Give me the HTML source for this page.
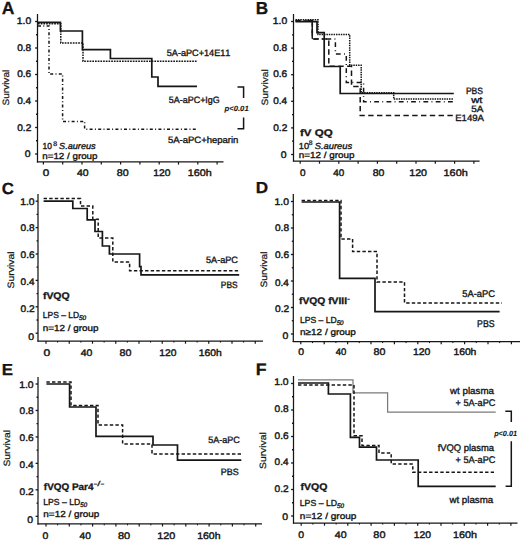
<!DOCTYPE html>
<html><head><meta charset="utf-8"><title>Survival figure</title>
<style>
html,body{margin:0;padding:0;background:#fff;}
body{width:520px;height:540px;overflow:hidden;}
svg{display:block;}
text{font-family:"Liberation Sans", sans-serif;fill:#161616;font-kerning:none;text-rendering:geometricPrecision;}
</style></head>
<body>
<svg width="520" height="540" viewBox="0 0 520 540">
<rect width="520" height="540" fill="#fff"/>
<text x="1.76" y="13.5" font-size="17.59" textLength="12.70" lengthAdjust="spacingAndGlyphs" font-weight="bold" fill="#000" stroke="#000" stroke-width="0.25">A</text>
<line x1="37.50" y1="14.00" x2="37.50" y2="162.50" stroke="#161616" stroke-width="1.25"/>
<line x1="36.90" y1="161.90" x2="223.50" y2="161.90" stroke="#161616" stroke-width="1.25"/>
<line x1="35.10" y1="154.00" x2="37.50" y2="154.00" stroke="#161616" stroke-width="1.3"/>
<line x1="36.00" y1="140.75" x2="37.50" y2="140.75" stroke="#161616" stroke-width="1.3"/>
<line x1="35.10" y1="127.50" x2="37.50" y2="127.50" stroke="#161616" stroke-width="1.3"/>
<line x1="36.00" y1="114.25" x2="37.50" y2="114.25" stroke="#161616" stroke-width="1.3"/>
<line x1="35.10" y1="101.00" x2="37.50" y2="101.00" stroke="#161616" stroke-width="1.3"/>
<line x1="36.00" y1="87.75" x2="37.50" y2="87.75" stroke="#161616" stroke-width="1.3"/>
<line x1="35.10" y1="74.50" x2="37.50" y2="74.50" stroke="#161616" stroke-width="1.3"/>
<line x1="36.00" y1="61.25" x2="37.50" y2="61.25" stroke="#161616" stroke-width="1.3"/>
<line x1="35.10" y1="48.00" x2="37.50" y2="48.00" stroke="#161616" stroke-width="1.3"/>
<line x1="36.00" y1="34.75" x2="37.50" y2="34.75" stroke="#161616" stroke-width="1.3"/>
<line x1="35.10" y1="21.50" x2="37.50" y2="21.50" stroke="#161616" stroke-width="1.3"/>
<text x="16.81" y="24.0" font-size="9.6" textLength="14.39" lengthAdjust="spacingAndGlyphs" stroke="#161616" stroke-width="0.42">1.0</text>
<text x="17.21" y="50.8" font-size="9.6" textLength="14.03" lengthAdjust="spacingAndGlyphs" stroke="#161616" stroke-width="0.42">0.8</text>
<text x="17.21" y="77.4" font-size="9.6" textLength="14.04" lengthAdjust="spacingAndGlyphs" stroke="#161616" stroke-width="0.42">0.6</text>
<text x="17.21" y="104.0" font-size="9.6" textLength="13.88" lengthAdjust="spacingAndGlyphs" stroke="#161616" stroke-width="0.42">0.4</text>
<text x="17.20" y="130.6" font-size="9.6" textLength="14.11" lengthAdjust="spacingAndGlyphs" stroke="#161616" stroke-width="0.42">0.2</text>
<text x="24.79" y="157.4" font-size="9.6" textLength="5.82" lengthAdjust="spacingAndGlyphs" stroke="#161616" stroke-width="0.42">0</text>
<line x1="43.40" y1="161.90" x2="43.40" y2="164.60" stroke="#161616" stroke-width="1.2"/>
<line x1="62.70" y1="161.90" x2="62.70" y2="164.60" stroke="#161616" stroke-width="1.2"/>
<line x1="82.00" y1="161.90" x2="82.00" y2="164.60" stroke="#161616" stroke-width="1.2"/>
<line x1="101.30" y1="161.90" x2="101.30" y2="164.60" stroke="#161616" stroke-width="1.2"/>
<line x1="120.60" y1="161.90" x2="120.60" y2="164.60" stroke="#161616" stroke-width="1.2"/>
<line x1="139.90" y1="161.90" x2="139.90" y2="164.60" stroke="#161616" stroke-width="1.2"/>
<line x1="159.20" y1="161.90" x2="159.20" y2="164.60" stroke="#161616" stroke-width="1.2"/>
<line x1="178.50" y1="161.90" x2="178.50" y2="164.60" stroke="#161616" stroke-width="1.2"/>
<line x1="197.80" y1="161.90" x2="197.80" y2="164.60" stroke="#161616" stroke-width="1.2"/>
<line x1="217.10" y1="161.90" x2="217.10" y2="164.60" stroke="#161616" stroke-width="1.2"/>
<text x="42.84" y="176.0" font-size="9.6" textLength="6.52" lengthAdjust="spacingAndGlyphs" stroke="#161616" stroke-width="0.42">0</text>
<text x="76.96" y="176.0" font-size="9.6" textLength="11.65" lengthAdjust="spacingAndGlyphs" stroke="#161616" stroke-width="0.42">40</text>
<text x="116.74" y="176.0" font-size="9.6" textLength="11.88" lengthAdjust="spacingAndGlyphs" stroke="#161616" stroke-width="0.42">80</text>
<text x="153.22" y="176.0" font-size="9.6" textLength="17.19" lengthAdjust="spacingAndGlyphs" stroke="#161616" stroke-width="0.42">120</text>
<text x="187.78" y="176.0" font-size="9.6" textLength="23.92" lengthAdjust="spacingAndGlyphs" stroke="#161616" stroke-width="0.42">160h</text>
<text transform="translate(8.6,105.0) rotate(-90)" x="-0.45" y="0" font-size="9.2" textLength="35.62" lengthAdjust="spacingAndGlyphs" stroke="#161616" stroke-width="0.22">Survival</text>
<path d="M38,22.4 H60.4 V31 H82.4 V49.6 H110.4 V58.5 H151.8 V77 H158 V86.4 H197" stroke="#161616" stroke-width="1.7" fill="none" stroke-linejoin="miter"/>
<path d="M38,23.8 H60.8 V43 H83 V61.3 H197.6" stroke="#161616" stroke-width="1.5" fill="none" stroke-linejoin="miter" stroke-dasharray="1.7,1"/>
<path d="M38,26 H49 V74 H62.6 V121.4 H84.6 V129.2 H196" stroke="#161616" stroke-width="1.5" fill="none" stroke-linejoin="miter" stroke-dasharray="3,2.3,1,2.3"/>
<text x="166.73" y="55.5" font-size="9.2" textLength="63.71" lengthAdjust="spacingAndGlyphs" stroke="#161616" stroke-width="0.36">5A-aPC+14E11</text>
<text x="168.84" y="103.3" font-size="9.2" textLength="50.93" lengthAdjust="spacingAndGlyphs" stroke="#161616" stroke-width="0.36">5A-aPC+IgG</text>
<text x="167.92" y="143.1" font-size="9.2" textLength="70.50" lengthAdjust="spacingAndGlyphs" stroke="#161616" stroke-width="0.36">5A-aPC+heparin</text>
<path d="M237.5,87 H243.6 V98 M243.6,117.5 V128.7 H237.5" stroke="#161616" stroke-width="1.5" fill="none" stroke-linejoin="miter"/>
<text x="224.47" y="110.7" font-size="7.6" textLength="24.24" lengthAdjust="spacingAndGlyphs" font-weight="bold" font-style="italic" stroke="#161616" stroke-width="0.1">p&lt;0.01</text>
<text x="42.56" y="148.7" font-size="8.8" textLength="9.37" lengthAdjust="spacingAndGlyphs" stroke="#161616" stroke-width="0.36">10</text>
<text x="53.19" y="145.6" font-size="6.6" textLength="3.91" lengthAdjust="spacingAndGlyphs" stroke="#161616" stroke-width="0.3">8</text>
<text x="59.14" y="148.7" font-size="8.8" textLength="36.44" lengthAdjust="spacingAndGlyphs" font-style="italic" stroke="#161616" stroke-width="0.36">S.aureus</text>
<text x="42.25" y="158.8" font-size="8.8" textLength="55.26" lengthAdjust="spacingAndGlyphs" stroke="#161616" stroke-width="0.36">n=12 / group</text>
<text x="255.85" y="13.5" font-size="17.3" textLength="12.43" lengthAdjust="spacingAndGlyphs" font-weight="bold" fill="#000" stroke="#000" stroke-width="0.25">B</text>
<line x1="293.50" y1="14.00" x2="293.50" y2="161.60" stroke="#161616" stroke-width="1.25"/>
<line x1="292.90" y1="161.00" x2="479.60" y2="161.00" stroke="#161616" stroke-width="1.25"/>
<line x1="291.10" y1="154.50" x2="293.50" y2="154.50" stroke="#161616" stroke-width="1.3"/>
<line x1="292.00" y1="141.20" x2="293.50" y2="141.20" stroke="#161616" stroke-width="1.3"/>
<line x1="291.10" y1="127.90" x2="293.50" y2="127.90" stroke="#161616" stroke-width="1.3"/>
<line x1="292.00" y1="114.60" x2="293.50" y2="114.60" stroke="#161616" stroke-width="1.3"/>
<line x1="291.10" y1="101.30" x2="293.50" y2="101.30" stroke="#161616" stroke-width="1.3"/>
<line x1="292.00" y1="88.00" x2="293.50" y2="88.00" stroke="#161616" stroke-width="1.3"/>
<line x1="291.10" y1="74.70" x2="293.50" y2="74.70" stroke="#161616" stroke-width="1.3"/>
<line x1="292.00" y1="61.40" x2="293.50" y2="61.40" stroke="#161616" stroke-width="1.3"/>
<line x1="291.10" y1="48.10" x2="293.50" y2="48.10" stroke="#161616" stroke-width="1.3"/>
<line x1="292.00" y1="34.80" x2="293.50" y2="34.80" stroke="#161616" stroke-width="1.3"/>
<line x1="291.10" y1="21.50" x2="293.50" y2="21.50" stroke="#161616" stroke-width="1.3"/>
<text x="272.81" y="24.2" font-size="9.6" textLength="14.39" lengthAdjust="spacingAndGlyphs" stroke="#161616" stroke-width="0.42">1.0</text>
<text x="273.21" y="50.8" font-size="9.6" textLength="14.03" lengthAdjust="spacingAndGlyphs" stroke="#161616" stroke-width="0.42">0.8</text>
<text x="273.21" y="77.4" font-size="9.6" textLength="14.04" lengthAdjust="spacingAndGlyphs" stroke="#161616" stroke-width="0.42">0.6</text>
<text x="273.21" y="104.0" font-size="9.6" textLength="13.88" lengthAdjust="spacingAndGlyphs" stroke="#161616" stroke-width="0.42">0.4</text>
<text x="273.20" y="130.6" font-size="9.6" textLength="14.11" lengthAdjust="spacingAndGlyphs" stroke="#161616" stroke-width="0.42">0.2</text>
<text x="280.79" y="157.8" font-size="9.6" textLength="5.82" lengthAdjust="spacingAndGlyphs" stroke="#161616" stroke-width="0.42">0</text>
<line x1="300.20" y1="161.00" x2="300.20" y2="163.70" stroke="#161616" stroke-width="1.2"/>
<line x1="319.50" y1="161.00" x2="319.50" y2="163.70" stroke="#161616" stroke-width="1.2"/>
<line x1="338.80" y1="161.00" x2="338.80" y2="163.70" stroke="#161616" stroke-width="1.2"/>
<line x1="358.10" y1="161.00" x2="358.10" y2="163.70" stroke="#161616" stroke-width="1.2"/>
<line x1="377.40" y1="161.00" x2="377.40" y2="163.70" stroke="#161616" stroke-width="1.2"/>
<line x1="396.70" y1="161.00" x2="396.70" y2="163.70" stroke="#161616" stroke-width="1.2"/>
<line x1="416.00" y1="161.00" x2="416.00" y2="163.70" stroke="#161616" stroke-width="1.2"/>
<line x1="435.30" y1="161.00" x2="435.30" y2="163.70" stroke="#161616" stroke-width="1.2"/>
<line x1="454.60" y1="161.00" x2="454.60" y2="163.70" stroke="#161616" stroke-width="1.2"/>
<line x1="473.90" y1="161.00" x2="473.90" y2="163.70" stroke="#161616" stroke-width="1.2"/>
<text x="300.01" y="175.8" font-size="9.6" textLength="5.58" lengthAdjust="spacingAndGlyphs" stroke="#161616" stroke-width="0.42">0</text>
<text x="333.37" y="175.8" font-size="9.6" textLength="11.01" lengthAdjust="spacingAndGlyphs" stroke="#161616" stroke-width="0.42">40</text>
<text x="372.74" y="175.8" font-size="9.6" textLength="11.67" lengthAdjust="spacingAndGlyphs" stroke="#161616" stroke-width="0.42">80</text>
<text x="409.19" y="175.8" font-size="9.6" textLength="17.83" lengthAdjust="spacingAndGlyphs" stroke="#161616" stroke-width="0.42">120</text>
<text x="443.57" y="175.8" font-size="9.6" textLength="24.13" lengthAdjust="spacingAndGlyphs" stroke="#161616" stroke-width="0.42">160h</text>
<text transform="translate(268.0,105.0) rotate(-90)" x="-0.46" y="0" font-size="9.2" textLength="36.14" lengthAdjust="spacingAndGlyphs" stroke="#161616" stroke-width="0.22">Survival</text>
<path d="M295.5,21.6 H317 V32.6 H324.2 V66.5 H340.2 V93.5 H453.8" stroke="#161616" stroke-width="1.7" fill="none" stroke-linejoin="miter"/>
<path d="M295.5,19.8 H318 V34.5 H349.7 V65.2 H361.2 V92.7 H393.7 V99.1 H453.8" stroke="#161616" stroke-width="1.5" fill="none" stroke-linejoin="miter" stroke-dasharray="1.5,0.9"/>
<path d="M295.5,20.6 H312.3 V38.9 H335.4 V54 H346.3 V82.5 H363.6 V101.8 H453.8" stroke="#161616" stroke-width="1.5" fill="none" stroke-linejoin="miter" stroke-dasharray="4.8,3.3,0.9,3.3"/>
<path d="M295.5,21.0 H312.3 V38.9 H328.8 V66.2 H351.5 V86.5 H360.2 V115.5 H453.8" stroke="#161616" stroke-width="1.5" fill="none" stroke-linejoin="miter" stroke-dasharray="5.4,3.4"/>
<path d="M312.3,21.5 V38.9" stroke="#161616" stroke-width="1.3" fill="none" stroke-linejoin="miter"/>
<text x="465.90" y="93.5" font-size="9.2" textLength="17.09" lengthAdjust="spacingAndGlyphs" stroke="#161616" stroke-width="0.36">PBS</text>
<text x="471.22" y="102.5" font-size="9.2" textLength="11.27" lengthAdjust="spacingAndGlyphs" stroke="#161616" stroke-width="0.36">wt</text>
<text x="471.20" y="111.5" font-size="9.2" textLength="12.22" lengthAdjust="spacingAndGlyphs" stroke="#161616" stroke-width="0.36">5A</text>
<text x="455.21" y="121.0" font-size="9.2" textLength="28.81" lengthAdjust="spacingAndGlyphs" stroke="#161616" stroke-width="0.36">E149A</text>
<text x="300.00" y="135.5" font-size="9.6" textLength="32.68" lengthAdjust="spacingAndGlyphs" font-weight="bold" stroke="#161616" stroke-width="0.3">fV QQ</text>
<text x="298.80" y="148.8" font-size="8.8" textLength="10.26" lengthAdjust="spacingAndGlyphs" stroke="#161616" stroke-width="0.36">10</text>
<text x="308.70" y="145.4" font-size="6.6" textLength="3.79" lengthAdjust="spacingAndGlyphs" stroke="#161616" stroke-width="0.3">8</text>
<text x="314.73" y="148.8" font-size="8.8" textLength="37.46" lengthAdjust="spacingAndGlyphs" font-style="italic" stroke="#161616" stroke-width="0.36">S.aureus</text>
<text x="298.84" y="158.0" font-size="8.8" textLength="55.77" lengthAdjust="spacingAndGlyphs" stroke="#161616" stroke-width="0.36">n=12 / group</text>
<text x="1.81" y="193.54" font-size="16.1" textLength="12.15" lengthAdjust="spacingAndGlyphs" font-weight="bold" fill="#000" stroke="#000" stroke-width="0.25">C</text>
<line x1="38.00" y1="194.00" x2="38.00" y2="341.60" stroke="#161616" stroke-width="1.25"/>
<line x1="37.40" y1="341.00" x2="263.00" y2="341.00" stroke="#161616" stroke-width="1.25"/>
<line x1="35.60" y1="333.20" x2="38.00" y2="333.20" stroke="#161616" stroke-width="1.3"/>
<line x1="36.50" y1="320.00" x2="38.00" y2="320.00" stroke="#161616" stroke-width="1.3"/>
<line x1="35.60" y1="306.80" x2="38.00" y2="306.80" stroke="#161616" stroke-width="1.3"/>
<line x1="36.50" y1="293.60" x2="38.00" y2="293.60" stroke="#161616" stroke-width="1.3"/>
<line x1="35.60" y1="280.40" x2="38.00" y2="280.40" stroke="#161616" stroke-width="1.3"/>
<line x1="36.50" y1="267.20" x2="38.00" y2="267.20" stroke="#161616" stroke-width="1.3"/>
<line x1="35.60" y1="254.00" x2="38.00" y2="254.00" stroke="#161616" stroke-width="1.3"/>
<line x1="36.50" y1="240.80" x2="38.00" y2="240.80" stroke="#161616" stroke-width="1.3"/>
<line x1="35.60" y1="227.60" x2="38.00" y2="227.60" stroke="#161616" stroke-width="1.3"/>
<line x1="36.50" y1="214.40" x2="38.00" y2="214.40" stroke="#161616" stroke-width="1.3"/>
<line x1="35.60" y1="201.20" x2="38.00" y2="201.20" stroke="#161616" stroke-width="1.3"/>
<text x="20.21" y="204.5" font-size="9.6" textLength="14.39" lengthAdjust="spacingAndGlyphs" stroke="#161616" stroke-width="0.42">1.0</text>
<text x="20.61" y="231.4" font-size="9.6" textLength="14.03" lengthAdjust="spacingAndGlyphs" stroke="#161616" stroke-width="0.42">0.8</text>
<text x="20.61" y="258.1" font-size="9.6" textLength="14.04" lengthAdjust="spacingAndGlyphs" stroke="#161616" stroke-width="0.42">0.6</text>
<text x="20.61" y="285.4" font-size="9.6" textLength="13.88" lengthAdjust="spacingAndGlyphs" stroke="#161616" stroke-width="0.42">0.4</text>
<text x="20.60" y="311.5" font-size="9.6" textLength="14.11" lengthAdjust="spacingAndGlyphs" stroke="#161616" stroke-width="0.42">0.2</text>
<text x="28.19" y="339.5" font-size="9.6" textLength="5.82" lengthAdjust="spacingAndGlyphs" stroke="#161616" stroke-width="0.42">0</text>
<line x1="46.00" y1="341.00" x2="46.00" y2="343.70" stroke="#161616" stroke-width="1.2"/>
<line x1="57.62" y1="341.00" x2="57.62" y2="342.60" stroke="#161616" stroke-width="1.0"/>
<line x1="69.25" y1="341.00" x2="69.25" y2="343.70" stroke="#161616" stroke-width="1.2"/>
<line x1="80.88" y1="341.00" x2="80.88" y2="342.60" stroke="#161616" stroke-width="1.0"/>
<line x1="92.50" y1="341.00" x2="92.50" y2="343.70" stroke="#161616" stroke-width="1.2"/>
<line x1="104.12" y1="341.00" x2="104.12" y2="342.60" stroke="#161616" stroke-width="1.0"/>
<line x1="115.75" y1="341.00" x2="115.75" y2="343.70" stroke="#161616" stroke-width="1.2"/>
<line x1="127.38" y1="341.00" x2="127.38" y2="342.60" stroke="#161616" stroke-width="1.0"/>
<line x1="139.00" y1="341.00" x2="139.00" y2="343.70" stroke="#161616" stroke-width="1.2"/>
<line x1="150.62" y1="341.00" x2="150.62" y2="342.60" stroke="#161616" stroke-width="1.0"/>
<line x1="162.25" y1="341.00" x2="162.25" y2="343.70" stroke="#161616" stroke-width="1.2"/>
<line x1="173.88" y1="341.00" x2="173.88" y2="342.60" stroke="#161616" stroke-width="1.0"/>
<line x1="185.50" y1="341.00" x2="185.50" y2="343.70" stroke="#161616" stroke-width="1.2"/>
<line x1="197.12" y1="341.00" x2="197.12" y2="342.60" stroke="#161616" stroke-width="1.0"/>
<line x1="208.75" y1="341.00" x2="208.75" y2="343.70" stroke="#161616" stroke-width="1.2"/>
<line x1="220.38" y1="341.00" x2="220.38" y2="342.60" stroke="#161616" stroke-width="1.0"/>
<line x1="232.00" y1="341.00" x2="232.00" y2="343.70" stroke="#161616" stroke-width="1.2"/>
<line x1="243.62" y1="341.00" x2="243.62" y2="342.60" stroke="#161616" stroke-width="1.0"/>
<line x1="255.25" y1="341.00" x2="255.25" y2="343.70" stroke="#161616" stroke-width="1.2"/>
<text x="43.53" y="355.5" font-size="9.6" textLength="6.75" lengthAdjust="spacingAndGlyphs" stroke="#161616" stroke-width="0.42">0</text>
<text x="80.76" y="355.5" font-size="9.6" textLength="11.65" lengthAdjust="spacingAndGlyphs" stroke="#161616" stroke-width="0.42">40</text>
<text x="119.54" y="355.5" font-size="9.6" textLength="11.88" lengthAdjust="spacingAndGlyphs" stroke="#161616" stroke-width="0.42">80</text>
<text x="159.22" y="355.5" font-size="9.6" textLength="17.19" lengthAdjust="spacingAndGlyphs" stroke="#161616" stroke-width="0.42">120</text>
<text x="198.71" y="355.5" font-size="9.6" textLength="22.96" lengthAdjust="spacingAndGlyphs" stroke="#161616" stroke-width="0.42">160h</text>
<text transform="translate(13.6,288.0) rotate(-90)" x="-0.47" y="0" font-size="9.2" textLength="37.17" lengthAdjust="spacingAndGlyphs" stroke="#161616" stroke-width="0.22">Survival</text>
<path d="M43.6,201.2 H72.8 V208.5 H87.2 V219.8 H95 V231.5 H102.4 V246 H109.4 V254 H139.6 V266.6 H141 V274.8 H239.2" stroke="#161616" stroke-width="1.7" fill="none" stroke-linejoin="miter"/>
<path d="M43.6,198.6 H80.5 V206 H92.8 V219.3 H98.2 V238 H112.8 V262 H129.6 V270.7 H239.4" stroke="#161616" stroke-width="1.5" fill="none" stroke-linejoin="miter" stroke-dasharray="3.4,2.2"/>
<text x="206.04" y="263.2" font-size="9.2" textLength="31.91" lengthAdjust="spacingAndGlyphs" stroke="#161616" stroke-width="0.36">5A-aPC</text>
<text x="220.81" y="287.6" font-size="9.2" textLength="16.77" lengthAdjust="spacingAndGlyphs" stroke="#161616" stroke-width="0.36">PBS</text>
<text x="42.92" y="298.8" font-size="9.6" textLength="26.72" lengthAdjust="spacingAndGlyphs" font-weight="bold" stroke="#161616" stroke-width="0.3">fVQQ</text>
<text x="42.81" y="318.2" font-size="8.8" textLength="36.20" lengthAdjust="spacingAndGlyphs" stroke="#161616" stroke-width="0.36">LPS – LD</text>
<text x="79.06" y="320.1" font-size="6.6" textLength="7.10" lengthAdjust="spacingAndGlyphs" font-style="italic" stroke="#161616" stroke-width="0.36">50</text>
<text x="42.84" y="330.8" font-size="8.8" textLength="55.77" lengthAdjust="spacingAndGlyphs" stroke="#161616" stroke-width="0.36">n=12 / group</text>
<text x="255.85" y="193.3" font-size="15.99" textLength="12.36" lengthAdjust="spacingAndGlyphs" font-weight="bold" fill="#000" stroke="#000" stroke-width="0.25">D</text>
<line x1="293.30" y1="194.00" x2="293.30" y2="342.10" stroke="#161616" stroke-width="1.25"/>
<line x1="292.70" y1="341.50" x2="520.00" y2="341.50" stroke="#161616" stroke-width="1.25"/>
<line x1="290.90" y1="334.00" x2="293.30" y2="334.00" stroke="#161616" stroke-width="1.3"/>
<line x1="291.80" y1="320.75" x2="293.30" y2="320.75" stroke="#161616" stroke-width="1.3"/>
<line x1="290.90" y1="307.50" x2="293.30" y2="307.50" stroke="#161616" stroke-width="1.3"/>
<line x1="291.80" y1="294.25" x2="293.30" y2="294.25" stroke="#161616" stroke-width="1.3"/>
<line x1="290.90" y1="281.00" x2="293.30" y2="281.00" stroke="#161616" stroke-width="1.3"/>
<line x1="291.80" y1="267.75" x2="293.30" y2="267.75" stroke="#161616" stroke-width="1.3"/>
<line x1="290.90" y1="254.50" x2="293.30" y2="254.50" stroke="#161616" stroke-width="1.3"/>
<line x1="291.80" y1="241.25" x2="293.30" y2="241.25" stroke="#161616" stroke-width="1.3"/>
<line x1="290.90" y1="228.00" x2="293.30" y2="228.00" stroke="#161616" stroke-width="1.3"/>
<line x1="291.80" y1="214.75" x2="293.30" y2="214.75" stroke="#161616" stroke-width="1.3"/>
<line x1="290.90" y1="201.50" x2="293.30" y2="201.50" stroke="#161616" stroke-width="1.3"/>
<text x="274.61" y="204.5" font-size="9.6" textLength="14.39" lengthAdjust="spacingAndGlyphs" stroke="#161616" stroke-width="0.42">1.0</text>
<text x="275.01" y="231.2" font-size="9.6" textLength="14.03" lengthAdjust="spacingAndGlyphs" stroke="#161616" stroke-width="0.42">0.8</text>
<text x="275.01" y="258.3" font-size="9.6" textLength="14.04" lengthAdjust="spacingAndGlyphs" stroke="#161616" stroke-width="0.42">0.6</text>
<text x="275.01" y="285.6" font-size="9.6" textLength="13.88" lengthAdjust="spacingAndGlyphs" stroke="#161616" stroke-width="0.42">0.4</text>
<text x="275.00" y="311.9" font-size="9.6" textLength="14.11" lengthAdjust="spacingAndGlyphs" stroke="#161616" stroke-width="0.42">0.2</text>
<text x="282.59" y="339.0" font-size="9.6" textLength="5.82" lengthAdjust="spacingAndGlyphs" stroke="#161616" stroke-width="0.42">0</text>
<line x1="300.80" y1="341.50" x2="300.80" y2="344.20" stroke="#161616" stroke-width="1.2"/>
<line x1="312.50" y1="341.50" x2="312.50" y2="343.10" stroke="#161616" stroke-width="1.0"/>
<line x1="324.20" y1="341.50" x2="324.20" y2="344.20" stroke="#161616" stroke-width="1.2"/>
<line x1="335.90" y1="341.50" x2="335.90" y2="343.10" stroke="#161616" stroke-width="1.0"/>
<line x1="347.60" y1="341.50" x2="347.60" y2="344.20" stroke="#161616" stroke-width="1.2"/>
<line x1="359.30" y1="341.50" x2="359.30" y2="343.10" stroke="#161616" stroke-width="1.0"/>
<line x1="371.00" y1="341.50" x2="371.00" y2="344.20" stroke="#161616" stroke-width="1.2"/>
<line x1="382.70" y1="341.50" x2="382.70" y2="343.10" stroke="#161616" stroke-width="1.0"/>
<line x1="394.40" y1="341.50" x2="394.40" y2="344.20" stroke="#161616" stroke-width="1.2"/>
<line x1="406.10" y1="341.50" x2="406.10" y2="343.10" stroke="#161616" stroke-width="1.0"/>
<line x1="417.80" y1="341.50" x2="417.80" y2="344.20" stroke="#161616" stroke-width="1.2"/>
<line x1="429.50" y1="341.50" x2="429.50" y2="343.10" stroke="#161616" stroke-width="1.0"/>
<line x1="441.20" y1="341.50" x2="441.20" y2="344.20" stroke="#161616" stroke-width="1.2"/>
<line x1="452.90" y1="341.50" x2="452.90" y2="343.10" stroke="#161616" stroke-width="1.0"/>
<line x1="464.60" y1="341.50" x2="464.60" y2="344.20" stroke="#161616" stroke-width="1.2"/>
<line x1="476.30" y1="341.50" x2="476.30" y2="343.10" stroke="#161616" stroke-width="1.0"/>
<line x1="488.00" y1="341.50" x2="488.00" y2="344.20" stroke="#161616" stroke-width="1.2"/>
<line x1="499.70" y1="341.50" x2="499.70" y2="343.10" stroke="#161616" stroke-width="1.0"/>
<line x1="511.40" y1="341.50" x2="511.40" y2="344.20" stroke="#161616" stroke-width="1.2"/>
<text x="298.39" y="355.0" font-size="9.6" textLength="5.82" lengthAdjust="spacingAndGlyphs" stroke="#161616" stroke-width="0.42">0</text>
<text x="335.78" y="355.0" font-size="9.6" textLength="10.59" lengthAdjust="spacingAndGlyphs" stroke="#161616" stroke-width="0.42">40</text>
<text x="373.54" y="355.0" font-size="9.6" textLength="11.88" lengthAdjust="spacingAndGlyphs" stroke="#161616" stroke-width="0.42">80</text>
<text x="413.01" y="355.0" font-size="9.6" textLength="17.40" lengthAdjust="spacingAndGlyphs" stroke="#161616" stroke-width="0.42">120</text>
<text x="453.41" y="355.0" font-size="9.6" textLength="22.96" lengthAdjust="spacingAndGlyphs" stroke="#161616" stroke-width="0.42">160h</text>
<text transform="translate(267.0,287.0) rotate(-90)" x="-0.46" y="0" font-size="9.2" textLength="35.93" lengthAdjust="spacingAndGlyphs" stroke="#161616" stroke-width="0.22">Survival</text>
<path d="M301.6,202 H339.6 V278.4 H375 V311.6 H499.6" stroke="#161616" stroke-width="1.7" fill="none" stroke-linejoin="miter"/>
<path d="M301.6,200.4 H341 V239 H352.6 V251.6 H377 V282 H404.5 V303 H502" stroke="#161616" stroke-width="1.5" fill="none" stroke-linejoin="miter" stroke-dasharray="3.4,2.2"/>
<text x="462.22" y="297.2" font-size="9.7" textLength="32.83" lengthAdjust="spacingAndGlyphs" stroke="#161616" stroke-width="0.36">5A-aPC</text>
<text x="477.08" y="327.0" font-size="9.7" textLength="17.52" lengthAdjust="spacingAndGlyphs" stroke="#161616" stroke-width="0.36">PBS</text>
<text x="299.02" y="304.3" font-size="9.6" textLength="48.06" lengthAdjust="spacingAndGlyphs" font-weight="bold" stroke="#161616" stroke-width="0.3">fVQQ fVIII</text>
<text x="347.03" y="301.4" font-size="7.0" textLength="3.15" lengthAdjust="spacingAndGlyphs" font-weight="bold" stroke="#161616" stroke-width="0.1">-</text>
<text x="300.00" y="323.0" font-size="8.8" textLength="36.61" lengthAdjust="spacingAndGlyphs" stroke="#161616" stroke-width="0.36">LPS – LD</text>
<text x="336.66" y="324.8" font-size="6.6" textLength="6.89" lengthAdjust="spacingAndGlyphs" font-style="italic" stroke="#161616" stroke-width="0.36">50</text>
<text x="300.04" y="335.2" font-size="8.8" textLength="55.88" lengthAdjust="spacingAndGlyphs" stroke="#161616" stroke-width="0.36">n≥12 / group</text>
<text x="1.87" y="374.6" font-size="15.99" textLength="11.29" lengthAdjust="spacingAndGlyphs" font-weight="bold" fill="#000" stroke="#000" stroke-width="0.25">E</text>
<line x1="38.00" y1="377.00" x2="38.00" y2="524.40" stroke="#161616" stroke-width="1.25"/>
<line x1="37.40" y1="523.80" x2="262.00" y2="523.80" stroke="#161616" stroke-width="1.25"/>
<line x1="35.60" y1="516.30" x2="38.00" y2="516.30" stroke="#161616" stroke-width="1.3"/>
<line x1="36.50" y1="503.07" x2="38.00" y2="503.07" stroke="#161616" stroke-width="1.3"/>
<line x1="35.60" y1="489.84" x2="38.00" y2="489.84" stroke="#161616" stroke-width="1.3"/>
<line x1="36.50" y1="476.61" x2="38.00" y2="476.61" stroke="#161616" stroke-width="1.3"/>
<line x1="35.60" y1="463.38" x2="38.00" y2="463.38" stroke="#161616" stroke-width="1.3"/>
<line x1="36.50" y1="450.15" x2="38.00" y2="450.15" stroke="#161616" stroke-width="1.3"/>
<line x1="35.60" y1="436.92" x2="38.00" y2="436.92" stroke="#161616" stroke-width="1.3"/>
<line x1="36.50" y1="423.69" x2="38.00" y2="423.69" stroke="#161616" stroke-width="1.3"/>
<line x1="35.60" y1="410.46" x2="38.00" y2="410.46" stroke="#161616" stroke-width="1.3"/>
<line x1="36.50" y1="397.23" x2="38.00" y2="397.23" stroke="#161616" stroke-width="1.3"/>
<line x1="35.60" y1="384.00" x2="38.00" y2="384.00" stroke="#161616" stroke-width="1.3"/>
<text x="19.21" y="387.5" font-size="9.6" textLength="14.39" lengthAdjust="spacingAndGlyphs" stroke="#161616" stroke-width="0.42">1.0</text>
<text x="19.61" y="414.0" font-size="9.6" textLength="14.03" lengthAdjust="spacingAndGlyphs" stroke="#161616" stroke-width="0.42">0.8</text>
<text x="19.61" y="441.0" font-size="9.6" textLength="14.04" lengthAdjust="spacingAndGlyphs" stroke="#161616" stroke-width="0.42">0.6</text>
<text x="19.61" y="467.8" font-size="9.6" textLength="13.88" lengthAdjust="spacingAndGlyphs" stroke="#161616" stroke-width="0.42">0.4</text>
<text x="19.60" y="494.5" font-size="9.6" textLength="14.11" lengthAdjust="spacingAndGlyphs" stroke="#161616" stroke-width="0.42">0.2</text>
<text x="27.19" y="522.5" font-size="9.6" textLength="5.82" lengthAdjust="spacingAndGlyphs" stroke="#161616" stroke-width="0.42">0</text>
<line x1="46.00" y1="523.80" x2="46.00" y2="526.50" stroke="#161616" stroke-width="1.2"/>
<line x1="57.65" y1="523.80" x2="57.65" y2="525.40" stroke="#161616" stroke-width="1.0"/>
<line x1="69.30" y1="523.80" x2="69.30" y2="526.50" stroke="#161616" stroke-width="1.2"/>
<line x1="80.95" y1="523.80" x2="80.95" y2="525.40" stroke="#161616" stroke-width="1.0"/>
<line x1="92.60" y1="523.80" x2="92.60" y2="526.50" stroke="#161616" stroke-width="1.2"/>
<line x1="104.25" y1="523.80" x2="104.25" y2="525.40" stroke="#161616" stroke-width="1.0"/>
<line x1="115.90" y1="523.80" x2="115.90" y2="526.50" stroke="#161616" stroke-width="1.2"/>
<line x1="127.55" y1="523.80" x2="127.55" y2="525.40" stroke="#161616" stroke-width="1.0"/>
<line x1="139.20" y1="523.80" x2="139.20" y2="526.50" stroke="#161616" stroke-width="1.2"/>
<line x1="150.85" y1="523.80" x2="150.85" y2="525.40" stroke="#161616" stroke-width="1.0"/>
<line x1="162.50" y1="523.80" x2="162.50" y2="526.50" stroke="#161616" stroke-width="1.2"/>
<line x1="174.15" y1="523.80" x2="174.15" y2="525.40" stroke="#161616" stroke-width="1.0"/>
<line x1="185.80" y1="523.80" x2="185.80" y2="526.50" stroke="#161616" stroke-width="1.2"/>
<line x1="197.45" y1="523.80" x2="197.45" y2="525.40" stroke="#161616" stroke-width="1.0"/>
<line x1="209.10" y1="523.80" x2="209.10" y2="526.50" stroke="#161616" stroke-width="1.2"/>
<line x1="220.75" y1="523.80" x2="220.75" y2="525.40" stroke="#161616" stroke-width="1.0"/>
<line x1="232.40" y1="523.80" x2="232.40" y2="526.50" stroke="#161616" stroke-width="1.2"/>
<line x1="244.05" y1="523.80" x2="244.05" y2="525.40" stroke="#161616" stroke-width="1.0"/>
<line x1="255.70" y1="523.80" x2="255.70" y2="526.50" stroke="#161616" stroke-width="1.2"/>
<text x="42.59" y="538.5" font-size="9.6" textLength="5.82" lengthAdjust="spacingAndGlyphs" stroke="#161616" stroke-width="0.42">0</text>
<text x="79.57" y="538.5" font-size="9.6" textLength="11.33" lengthAdjust="spacingAndGlyphs" stroke="#161616" stroke-width="0.42">40</text>
<text x="118.02" y="538.5" font-size="9.6" textLength="12.21" lengthAdjust="spacingAndGlyphs" stroke="#161616" stroke-width="0.42">80</text>
<text x="157.18" y="538.5" font-size="9.6" textLength="18.05" lengthAdjust="spacingAndGlyphs" stroke="#161616" stroke-width="0.42">120</text>
<text x="197.20" y="538.5" font-size="9.6" textLength="23.28" lengthAdjust="spacingAndGlyphs" stroke="#161616" stroke-width="0.42">160h</text>
<text transform="translate(9.6,466.0) rotate(-90)" x="-0.47" y="0" font-size="9.2" textLength="36.45" lengthAdjust="spacingAndGlyphs" stroke="#161616" stroke-width="0.22">Survival</text>
<path d="M46.4,384 H69.6 V407 H96 V436.4 H153 V445 H177.5 V460.2 H241.3" stroke="#161616" stroke-width="1.7" fill="none" stroke-linejoin="miter"/>
<path d="M46.4,382 H71 V405.6 H98 V425 H122.6 V444 H152 V454 H242" stroke="#161616" stroke-width="1.5" fill="none" stroke-linejoin="miter" stroke-dasharray="3.4,2.2"/>
<text x="208.34" y="443.0" font-size="9.2" textLength="31.50" lengthAdjust="spacingAndGlyphs" stroke="#161616" stroke-width="0.36">5A-aPC</text>
<text x="220.76" y="474.5" font-size="9.2" textLength="17.95" lengthAdjust="spacingAndGlyphs" stroke="#161616" stroke-width="0.36">PBS</text>
<text x="43.83" y="490.0" font-size="9.6" textLength="49.62" lengthAdjust="spacingAndGlyphs" font-weight="bold" stroke="#161616" stroke-width="0.3">fVQQ Par4</text>
<text x="93.48" y="486.0" font-size="7.0" textLength="11.04" lengthAdjust="spacingAndGlyphs" stroke="#161616" stroke-width="0.25">-/-</text>
<text x="43.29" y="505.0" font-size="8.8" textLength="36.92" lengthAdjust="spacingAndGlyphs" stroke="#161616" stroke-width="0.36">LPS – LD</text>
<text x="80.26" y="506.8" font-size="6.6" textLength="6.79" lengthAdjust="spacingAndGlyphs" font-style="italic" stroke="#161616" stroke-width="0.36">50</text>
<text x="43.34" y="517.0" font-size="8.8" textLength="56.08" lengthAdjust="spacingAndGlyphs" stroke="#161616" stroke-width="0.36">n=12 / group</text>
<text x="255.81" y="374.6" font-size="16.57" textLength="10.84" lengthAdjust="spacingAndGlyphs" font-weight="bold" fill="#000" stroke="#000" stroke-width="0.25">F</text>
<line x1="293.50" y1="376.00" x2="293.50" y2="523.60" stroke="#161616" stroke-width="1.25"/>
<line x1="292.90" y1="523.00" x2="517.50" y2="523.00" stroke="#161616" stroke-width="1.25"/>
<line x1="291.10" y1="516.00" x2="293.50" y2="516.00" stroke="#161616" stroke-width="1.3"/>
<line x1="292.00" y1="502.75" x2="293.50" y2="502.75" stroke="#161616" stroke-width="1.3"/>
<line x1="291.10" y1="489.50" x2="293.50" y2="489.50" stroke="#161616" stroke-width="1.3"/>
<line x1="292.00" y1="476.25" x2="293.50" y2="476.25" stroke="#161616" stroke-width="1.3"/>
<line x1="291.10" y1="463.00" x2="293.50" y2="463.00" stroke="#161616" stroke-width="1.3"/>
<line x1="292.00" y1="449.75" x2="293.50" y2="449.75" stroke="#161616" stroke-width="1.3"/>
<line x1="291.10" y1="436.50" x2="293.50" y2="436.50" stroke="#161616" stroke-width="1.3"/>
<line x1="292.00" y1="423.25" x2="293.50" y2="423.25" stroke="#161616" stroke-width="1.3"/>
<line x1="291.10" y1="410.00" x2="293.50" y2="410.00" stroke="#161616" stroke-width="1.3"/>
<line x1="292.00" y1="396.75" x2="293.50" y2="396.75" stroke="#161616" stroke-width="1.3"/>
<line x1="291.10" y1="383.50" x2="293.50" y2="383.50" stroke="#161616" stroke-width="1.3"/>
<text x="274.21" y="384.5" font-size="9.6" textLength="14.39" lengthAdjust="spacingAndGlyphs" stroke="#161616" stroke-width="0.42">1.0</text>
<text x="274.61" y="411.5" font-size="9.6" textLength="14.03" lengthAdjust="spacingAndGlyphs" stroke="#161616" stroke-width="0.42">0.8</text>
<text x="274.61" y="438.5" font-size="9.6" textLength="14.04" lengthAdjust="spacingAndGlyphs" stroke="#161616" stroke-width="0.42">0.6</text>
<text x="274.61" y="465.2" font-size="9.6" textLength="13.88" lengthAdjust="spacingAndGlyphs" stroke="#161616" stroke-width="0.42">0.4</text>
<text x="274.60" y="492.0" font-size="9.6" textLength="14.11" lengthAdjust="spacingAndGlyphs" stroke="#161616" stroke-width="0.42">0.2</text>
<text x="282.19" y="519.5" font-size="9.6" textLength="5.82" lengthAdjust="spacingAndGlyphs" stroke="#161616" stroke-width="0.42">0</text>
<line x1="301.20" y1="523.00" x2="301.20" y2="525.70" stroke="#161616" stroke-width="1.2"/>
<line x1="312.85" y1="523.00" x2="312.85" y2="524.60" stroke="#161616" stroke-width="1.0"/>
<line x1="324.50" y1="523.00" x2="324.50" y2="525.70" stroke="#161616" stroke-width="1.2"/>
<line x1="336.15" y1="523.00" x2="336.15" y2="524.60" stroke="#161616" stroke-width="1.0"/>
<line x1="347.80" y1="523.00" x2="347.80" y2="525.70" stroke="#161616" stroke-width="1.2"/>
<line x1="359.45" y1="523.00" x2="359.45" y2="524.60" stroke="#161616" stroke-width="1.0"/>
<line x1="371.10" y1="523.00" x2="371.10" y2="525.70" stroke="#161616" stroke-width="1.2"/>
<line x1="382.75" y1="523.00" x2="382.75" y2="524.60" stroke="#161616" stroke-width="1.0"/>
<line x1="394.40" y1="523.00" x2="394.40" y2="525.70" stroke="#161616" stroke-width="1.2"/>
<line x1="406.05" y1="523.00" x2="406.05" y2="524.60" stroke="#161616" stroke-width="1.0"/>
<line x1="417.70" y1="523.00" x2="417.70" y2="525.70" stroke="#161616" stroke-width="1.2"/>
<line x1="429.35" y1="523.00" x2="429.35" y2="524.60" stroke="#161616" stroke-width="1.0"/>
<line x1="441.00" y1="523.00" x2="441.00" y2="525.70" stroke="#161616" stroke-width="1.2"/>
<line x1="452.65" y1="523.00" x2="452.65" y2="524.60" stroke="#161616" stroke-width="1.0"/>
<line x1="464.30" y1="523.00" x2="464.30" y2="525.70" stroke="#161616" stroke-width="1.2"/>
<line x1="475.95" y1="523.00" x2="475.95" y2="524.60" stroke="#161616" stroke-width="1.0"/>
<line x1="487.60" y1="523.00" x2="487.60" y2="525.70" stroke="#161616" stroke-width="1.2"/>
<line x1="499.25" y1="523.00" x2="499.25" y2="524.60" stroke="#161616" stroke-width="1.0"/>
<line x1="510.90" y1="523.00" x2="510.90" y2="525.70" stroke="#161616" stroke-width="1.2"/>
<text x="298.39" y="538.0" font-size="9.6" textLength="5.82" lengthAdjust="spacingAndGlyphs" stroke="#161616" stroke-width="0.42">0</text>
<text x="334.76" y="538.0" font-size="9.6" textLength="11.86" lengthAdjust="spacingAndGlyphs" stroke="#161616" stroke-width="0.42">40</text>
<text x="373.33" y="538.0" font-size="9.6" textLength="12.10" lengthAdjust="spacingAndGlyphs" stroke="#161616" stroke-width="0.42">80</text>
<text x="413.72" y="538.0" font-size="9.6" textLength="17.19" lengthAdjust="spacingAndGlyphs" stroke="#161616" stroke-width="0.42">120</text>
<text x="452.98" y="538.0" font-size="9.6" textLength="23.92" lengthAdjust="spacingAndGlyphs" stroke="#161616" stroke-width="0.42">160h</text>
<text transform="translate(265.7,468.5) rotate(-90)" x="-0.47" y="0" font-size="9.2" textLength="36.66" lengthAdjust="spacingAndGlyphs" stroke="#161616" stroke-width="0.22">Survival</text>
<path d="M298,379.8 H353 V392.8 H387.6 V412 H495.7" stroke="#7a7a7a" stroke-width="1.25" fill="none" stroke-linejoin="miter"/>
<path d="M298,383 H328.4 V394 H350.4 V437.4 H359.5 V447.2 H376.5 V460 H418.2 V486.4 H495.7" stroke="#161616" stroke-width="1.7" fill="none" stroke-linejoin="miter"/>
<path d="M298,385 H354 V435.8 H362 V445.4 H379 V453 H391.2 V464 H412.8 V472.3 H494" stroke="#161616" stroke-width="1.5" fill="none" stroke-linejoin="miter" stroke-dasharray="3.4,2.2"/>
<text x="450.01" y="394.0" font-size="9.6" textLength="43.99" lengthAdjust="spacingAndGlyphs" stroke="#161616" stroke-width="0.36">wt plasma</text>
<text x="455.55" y="406.3" font-size="9.6" textLength="39.79" lengthAdjust="spacingAndGlyphs" stroke="#161616" stroke-width="0.36">+ 5A-aPC</text>
<text x="437.67" y="450.8" font-size="9.6" textLength="56.33" lengthAdjust="spacingAndGlyphs" stroke="#161616" stroke-width="0.36">fVQQ plasma</text>
<text x="455.55" y="463.0" font-size="9.6" textLength="39.79" lengthAdjust="spacingAndGlyphs" stroke="#161616" stroke-width="0.36">+ 5A-aPC</text>
<text x="449.41" y="503.4" font-size="9.6" textLength="43.79" lengthAdjust="spacingAndGlyphs" stroke="#161616" stroke-width="0.36">wt plasma</text>
<path d="M505.3,411.2 H511.3 V422 M511.3,441.2 V486.2 H505.6" stroke="#161616" stroke-width="1.5" fill="none" stroke-linejoin="miter"/>
<text x="494.16" y="436.3" font-size="7.6" textLength="22.83" lengthAdjust="spacingAndGlyphs" font-weight="bold" font-style="italic" stroke="#161616" stroke-width="0.1">p&lt;0.01</text>
<text x="300.52" y="490.0" font-size="9.6" textLength="26.92" lengthAdjust="spacingAndGlyphs" font-weight="bold" stroke="#161616" stroke-width="0.3">fVQQ</text>
<text x="299.79" y="506.4" font-size="8.8" textLength="37.23" lengthAdjust="spacingAndGlyphs" stroke="#161616" stroke-width="0.36">LPS – LD</text>
<text x="337.06" y="508.2" font-size="6.6" textLength="6.99" lengthAdjust="spacingAndGlyphs" font-style="italic" stroke="#161616" stroke-width="0.36">50</text>
<text x="299.83" y="518.6" font-size="8.8" textLength="56.59" lengthAdjust="spacingAndGlyphs" stroke="#161616" stroke-width="0.36">n=12 / group</text>
</svg>
</body></html>
